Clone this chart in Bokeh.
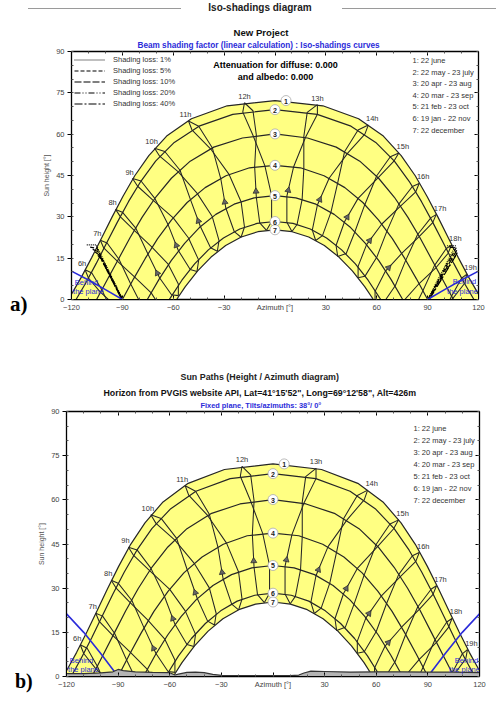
import math
from bokeh.plotting import figure
from bokeh.layouts import column, row
from bokeh.models import (Range1d, LinearAxis, SingleIntervalTicker, Label, Legend, LegendItem,
                          Title, Div)
from bokeh.core.properties import value
from bokeh.embed import file_html
from bokeh.resources import INLINE

# ---------------- data ----------------
DATE_LABELS = ["1: 22 june", "2: 22 may - 23 july", "3: 20 apr - 23 aug", "4: 20 mar - 23 sep",
               "5: 21 feb - 23 oct", "6: 19 jan - 22 nov", "7: 22 december"]

# sun paths (azimuth, height) for the 7 date curves
PATH1_AZ = [-122.0,-120.4,-114.1,-108.1,-102.1,-96.1,-89.7,-82.7,-74.4,-63.9,-49.3,-28.2,0.0,28.2,49.3,63.9,74.4,82.7,89.7,96.1,102.1,108.1,114.1,120.4,122.0]
PATH1_H = [0.0,1.5,8.2,15.2,22.5,29.9,37.4,44.9,52.2,59.3,65.6,70.3,72.2,70.3,65.6,59.3,52.2,44.9,37.4,29.9,22.5,15.2,8.2,1.5,0.0]
PATH2_AZ = [-117.3,-111.6,-105.4,-99.3,-93.1,-86.4,-79.1,-70.4,-59.4,-44.8,-24.9,0.0,24.9,44.8,59.4,70.4,79.1,86.4,93.1,99.3,105.4,111.6,117.3]
PATH2_H = [0.0,6.0,13.1,20.5,27.9,35.5,42.9,50.2,57.0,62.9,67.2,68.9,67.2,62.9,57.0,50.2,42.9,35.5,27.9,20.5,13.1,6.0,0.0]
PATH3_AZ = [-105.2,-98.6,-92.1,-85.5,-78.3,-70.4,-61.1,-50.0,-36.1,-19.2,0.0,19.2,36.1,50.0,61.1,70.4,78.3,85.5,92.1,98.6,105.2]
PATH3_H = [0.0,7.5,14.9,22.4,29.9,37.1,44.0,50.2,55.3,58.6,60.1,58.6,55.3,50.2,44.0,37.1,29.9,22.4,14.9,7.5,0.0]
PATH4_AZ = [-90.0,-83.4,-76.5,-69.2,-61.0,-51.8,-41.2,-28.9,-15.0,0.0,15.0,28.9,41.2,51.8,61.0,69.2,76.5,83.4,90.0]
PATH4_H = [0.0,7.5,14.9,22.1,28.9,35.2,40.6,44.9,47.8,48.7,47.8,44.9,40.6,35.2,28.9,22.1,14.9,7.5,0.0]
PATH5_AZ = [-75.3,-68.4,-61.2,-53.3,-44.6,-34.9,-24.1,-12.3,0.0,12.3,24.1,34.9,44.6,53.3,61.2,68.4,75.3]
PATH5_H = [0.0,7.3,14.1,20.4,26.1,30.9,34.6,36.9,37.7,36.9,34.6,30.9,26.1,20.4,14.1,7.3,0.0]
PATH6_AZ = [-62.4,-61.7,-54.9,-47.4,-39.3,-30.4,-20.8,-10.6,0.0,10.6,20.8,30.4,39.3,47.4,54.9,61.7,62.4]
PATH6_H = [0.0,0.6,7.0,12.9,18.0,22.3,25.6,27.6,28.3,27.6,25.6,22.3,18.0,12.9,7.0,0.6,0.0]
PATH7_AZ = [-58.0,-52.9,-45.6,-37.7,-29.1,-19.9,-10.1,0.0,10.1,19.9,29.1,37.7,45.6,52.9,58.0]
PATH7_H = [0.0,4.7,10.4,15.4,19.6,22.7,24.6,25.3,24.6,22.7,19.6,15.4,10.4,4.7,0.0]

# hour lines: sun position at each legal hour on
# 22 jun, 23 jul, 23 aug, 23 sep, 23 oct, 22 nov, 22 dec, 19 jan, 21 feb, 20 mar, 20 apr, 22 may
HOURS = [6, 7, 8, 9, 10, 11, 12, 13, 14, 15, 16, 17, 18, 19]
AZ_06 = [-112,-110,-103,-93,-83,-76,-75,-80,-88,-95,-102,-108]
H_06 = [10.8,7.8,2.7,-2.9,-8.6,-15.0,-19.1,-19.5,-14.1,-5.8,3.4,9.6]
AZ_07 = [-103,-101,-93,-83,-73,-66,-66,-70,-78,-85,-92,-99]
H_07 = [21.5,18.7,13.9,8.3,2.4,-4.3,-8.5,-8.6,-2.9,5.5,14.6,20.5]
AZ_08 = [-94,-91,-83,-73,-63,-57,-57,-61,-68,-75,-82,-90]
H_08 = [32.7,29.9,25.1,19.3,12.8,5.6,1.4,1.7,7.8,16.6,25.8,31.7]
AZ_09 = [-84,-81,-72,-60,-51,-45,-46,-50,-57,-63,-71,-79]
H_09 = [43.9,41.1,36.1,29.6,22.3,14.3,10.2,10.9,17.8,27.1,36.8,43.0]
AZ_10 = [-71,-68,-57,-46,-37,-33,-34,-38,-44,-50,-56,-65]
H_10 = [54.9,52.0,46.3,38.6,30.1,21.4,17.5,18.8,26.5,36.5,46.9,53.7]
AZ_11 = [-51,-49,-38,-27,-20,-18,-20,-24,-29,-32,-37,-45]
H_11 = [64.8,61.6,54.7,45.3,35.5,26.3,22.6,24.6,33.2,43.9,55.1,62.9]
AZ_12 = [-18,-19,-13,-6,-2,-2,-5,-9,-11,-12,-11,-13]
H_12 = [71.4,68.0,59.6,48.6,37.7,28.3,25.1,27.8,37.0,48.2,59.7,68.5]
AZ_13 = [25,19,17,17,16,13,10,7,7,11,18,25]
H_13 = [70.7,67.9,59.2,47.5,36.3,27.2,24.7,28.0,37.5,48.2,58.9,67.2]
AZ_14 = [55,49,41,37,33,28,24,22,25,32,43,53]
H_14 = [63.3,61.5,53.6,42.4,31.7,23.2,21.4,25.2,34.3,44.1,53.2,60.0]
AZ_15 = [73,68,60,53,47,42,37,36,41,49,61,70]
H_15 = [53.2,51.8,44.9,34.5,24.4,16.7,15.6,19.6,28.2,36.7,44.3,50.1]
AZ_16 = [85,81,73,66,60,53,49,49,54,63,74,83]
H_16 = [42.1,41.0,34.6,24.8,15.3,8.4,7.9,12.0,19.9,27.4,33.9,39.1]
AZ_17 = [95,92,84,77,71,64,59,59,65,75,85,93]
H_17 = [30.8,29.7,23.5,14.1,5.1,-1.2,-1.3,2.9,10.2,16.9,22.8,27.9]
AZ_18 = [104,101,94,87,80,73,69,69,76,85,95,102]
H_18 = [19.7,18.5,12.3,2.9,-5.8,-11.6,-11.4,-7.3,-0.4,5.8,11.6,16.7]
AZ_19 = [113,110,104,97,90,82,78,78,85,95,105,112]
H_19 = [9.1,7.7,1.1,-8.3,-17.1,-22.6,-22.2,-18.1,-11.6,-5.5,0.5,6.0]

# iso-shading curves (panel a)
SHADING_LABELS = ["Shading loss: 1%", "Shading loss: 5%", "Shading loss: 10%", "Shading loss: 20%", "Shading loss: 40%"]
ISO1_L_AZ = [-111.0, -105.5, -89.8];  ISO1_L_H = [19.8, 19.8, 0.0]
ISO1_R_AZ = [101.5, 106.5, 90.0];     ISO1_R_H = [19.5, 19.5, 0.0]
ISO5_L_AZ = [-109.0, -105.0, -89.9];  ISO5_L_H = [19.0, 18.6, 0.0]
ISO5_R_AZ = [103.0, 106.8, 90.2];     ISO5_R_H = [19.0, 18.7, 0.0]
ISO10_L_AZ = [-107.5, -104.5, -90.0]; ISO10_L_H = [18.2, 17.4, 0.0]
ISO10_R_AZ = [107.2, 90.4];           ISO10_R_H = [17.9, 0.0]
ISO20_L_AZ = [-106.0, -103.8, -90.2]; ISO20_L_H = [17.2, 16.2, 0.0]
ISO20_R_AZ = [107.5, 90.7];           ISO20_R_H = [17.0, 0.0]
ISO40_L_AZ = [-104.5, -102.5, -90.4]; ISO40_L_H = [16.0, 14.8, 0.0]
ISO40_R_AZ = [106.5, 91.0];           ISO40_R_H = [15.8, 0.0]

# "behind the plane" limits (plane tilt 20 deg in a, 38 deg in b)
BEHIND_L_AZ = [-120, -110, -100, -90]
BEHIND_R_AZ = [90, 100, 110, 120]
BEHIND_A_L_H = [10.3, 7.1, 3.6, 0.0]
BEHIND_A_R_H = [0.0, 3.6, 7.1, 10.3]
BEHIND_B_L_H = [21.3, 15.0, 7.7, 0.0]
BEHIND_B_R_H = [0.0, 7.7, 15.0, 21.3]

# PVGIS horizon (panel b)
HORIZON_AZ = [-120,-110,-100,-93,-90,-87,-80,-70,-60,-57,-55,-50,-45,-40,-35,-30,-20,-10,0,10,15,18,22,30,45,60,75,90,105,120]
HORIZON_H = [1.0,1.0,1.2,1.6,2.4,2.0,1.6,1.4,1.3,0.5,0.8,1.4,1.5,1.3,0.7,0.4,0.3,0.3,0.3,0.3,0.5,1.2,1.8,1.7,1.5,1.6,1.6,1.5,1.5,1.3]

# ---------------- styling ----------------
FONT = "Liberation Sans"
YELLOW = "#ffff82"
LINE = "#262626"
BLUE = "#2b2bd9"
TXT = "#333333"

PATHS = [(PATH1_AZ, PATH1_H), (PATH2_AZ, PATH2_H), (PATH3_AZ, PATH3_H), (PATH4_AZ, PATH4_H),
         (PATH5_AZ, PATH5_H), (PATH6_AZ, PATH6_H), (PATH7_AZ, PATH7_H)]
HOUR_AZ = [AZ_06, AZ_07, AZ_08, AZ_09, AZ_10, AZ_11, AZ_12, AZ_13, AZ_14, AZ_15, AZ_16, AZ_17, AZ_18, AZ_19]
HOUR_H = [H_06, H_07, H_08, H_09, H_10, H_11, H_12, H_13, H_14, H_15, H_16, H_17, H_18, H_19]
BRANCHES = ([0, 1, 2, 3, 4, 5, 6], [0, 11, 10, 9, 8, 7, 6])


def make_panel(width, height, left, right, top, bottom, ylab_standoff):
    p = figure(width=width, height=height, x_range=Range1d(-120, 120), y_range=Range1d(0, 90),
               output_backend="svg", toolbar_location=None,
               min_border_left=left, min_border_right=right,
               min_border_top=top, min_border_bottom=bottom,
               background_fill_color="white", border_fill_color="white")
    p.grid.visible = False
    p.outline_line_color = "black"
    p.outline_line_width = 1.3
    xa = p.xaxis[0]
    xa.ticker = SingleIntervalTicker(interval=30, num_minor_ticks=3)
    xa.major_label_overrides = {0: "Azimuth [°]"}
    ya = p.yaxis[0]
    ya.ticker = SingleIntervalTicker(interval=15, num_minor_ticks=3)
    ya.axis_label = "Sun height [°]"
    ya.axis_label_text_font = FONT
    ya.axis_label_text_font_size = "7px"
    ya.axis_label_text_font_style = "normal"
    ya.axis_label_text_color = "#555555"
    ya.axis_label_standoff = ylab_standoff
    for ax in (xa, ya):
        ax.major_label_text_font = FONT
        ax.major_label_text_font_size = "7.5px"
        ax.major_label_text_color = "#444444"
        ax.axis_line_color = "black"
        ax.major_tick_line_color = "black"
        ax.minor_tick_line_color = "#555555"
        ax.major_label_standoff = 3
    xa.major_tick_in, xa.major_tick_out = 4, 0
    xa.minor_tick_in, xa.minor_tick_out = 2, 0
    ya.major_tick_in, ya.major_tick_out = 0, 4
    ya.minor_tick_in, ya.minor_tick_out = 2, 0
    top_ax = LinearAxis(ticker=SingleIntervalTicker(interval=30, num_minor_ticks=3),
                        major_label_overrides={v: "" for v in range(-120, 121, 30)},
                        major_label_text_font_size="0px", major_label_standoff=0,
                        major_tick_in=4, major_tick_out=0, minor_tick_in=2, minor_tick_out=0,
                        axis_line_color="black", minor_tick_line_color="#555555")
    right_ax = LinearAxis(ticker=SingleIntervalTicker(interval=15, num_minor_ticks=3),
                          major_label_overrides={v: "" for v in range(0, 91, 15)},
                          major_label_text_font_size="0px", major_label_standoff=0,
                          major_tick_in=4, major_tick_out=0, minor_tick_in=2, minor_tick_out=0,
                          axis_line_color="black", minor_tick_line_color="#555555")
    p.add_layout(top_ax, "above")
    p.add_layout(right_ax, "right")
    return p


def add_title(p, text, offset, size, color, standoff=0):
    p.add_layout(Title(text=text, align="left", offset=offset, standoff=standoff,
                       vertical_align="middle", text_font=FONT, text_font_size=size,
                       text_font_style="bold", text_color=color), "above")


def draw_sun_paths(p, sx, sy):
    # yellow band between 22 june and 22 december
    p.patch(PATH1_AZ + PATH7_AZ[::-1], PATH1_H + PATH7_H[::-1], fill_color=YELLOW, line_color=None)
    # hour lines (two branches each)
    for az, h in zip(HOUR_AZ, HOUR_H):
        for idx in BRANCHES:
            xs, ys = [], []
            for i in idx:
                xs.append(az[i]); ys.append(h[i])
                if h[i] <= 0:
                    break
            p.line(xs, ys, line_color=LINE, line_width=1.05)
    # date curves
    for az, h in PATHS:
        p.line(az, h, line_color=LINE, line_width=1.2)
    # direction arrows on the rising branch (at 21 feb)
    axs, ays, angs = [], [], []
    for az, h in zip(HOUR_AZ, HOUR_H):
        f, m = 8, 9
        if h[f] > 0:
            axs.append(az[f] + 0.2 * (az[m] - az[f]))
            ays.append(h[f] + 0.2 * (h[m] - h[f]))
            angs.append(math.atan2((h[m] - h[f]) * sy, (az[m] - az[f]) * sx) - math.pi / 2)
    p.scatter(axs, ays, marker="triangle", size=6, angle=angs, fill_color="#666666",
              line_color="#222222", line_width=0.7)
    # hour labels at the 22 june point
    for hr, az, h in zip(HOURS, HOUR_AZ, HOUR_H):
        xo = -3 if hr < 12 else (4 if hr > 13 else 0)
        p.text([az[0]], [h[0]], text=["%dh" % hr], text_font=value(FONT), text_font_size="7.5px",
               text_color=TXT, text_align="center", text_baseline="bottom", x_offset=xo, y_offset=-2)


def draw_date_marks(p):
    xs, ys, ts = [], [], []
    for k, (az, h) in enumerate(PATHS):
        i = h.index(max(h))
        xs.append(az[i] + (6.5 if k == 0 else 0.0))
        ys.append(h[i])
        ts.append(str(k + 1))
    p.scatter(xs, ys, marker="circle", size=10, fill_color="white", line_color="#aaaaaa", line_width=0.8)
    p.text(xs, ys, text=ts, text_font=value(FONT), text_font_size="7px", text_font_style="bold",
           text_color="#222222", text_align="center", text_baseline="middle", y_offset=0.5)


def label(p, x, y, text, size, color="black", bold=False, align="center", baseline="middle"):
    p.add_layout(Label(x=x, y=y, text=text, text_font=FONT, text_font_size=size,
                       text_font_style="bold" if bold else "normal", text_color=color,
                       text_align=align, text_baseline=baseline))


# ---------------- header ----------------
header = Div(width=496, height=20, margin=0, text=(
    "<div style='position:relative;width:496px;height:20px;'>"
    "<div style='position:absolute;left:28px;top:8px;width:153px;height:0;border-top:1px solid #9a9a9a'></div>"
    "<div style='position:absolute;left:342px;top:8px;width:154px;height:0;border-top:1px solid #9a9a9a'></div>"
    "<div style=\"position:absolute;left:160px;top:2px;width:200px;text-align:center;"
    "font-family:'Liberation Sans';font-weight:bold;font-size:10px;line-height:12px;color:#222\">"
    "Iso-shadings diagram</div></div>"))

# ---------------- panel a ----------------
A_TOP, A_H, SIDE_A, BORDER = 20, 333, 40, 31


def pa_xy(px, py):
    return -120 + (px - 71) * 240 / 407, (299 - py) * 90 / 248


pa = make_panel(496 - SIDE_A, A_H, BORDER, 18, 51 - A_TOP, A_TOP + A_H - 299, 3)
add_title(pa, "Beam shading factor (linear calculation) : Iso-shadings curves", 137 - 71, "8.2px", BLUE, standoff=2)
add_title(pa, "New Project", 233 - 71, "9.6px", "#111111")
draw_sun_paths(pa, 407 / 240, 248 / 90)

dashes = ["1 1", "4 2", "7 2", "6 2 1 2 1 2", "8 2 2 2"]
iso = [((ISO1_L_AZ, ISO1_R_AZ), (ISO1_L_H, ISO1_R_H)),
       ((ISO5_L_AZ, ISO5_R_AZ), (ISO5_L_H, ISO5_R_H)),
       ((ISO10_L_AZ, ISO10_R_AZ), (ISO10_L_H, ISO10_R_H)),
       ((ISO20_L_AZ, ISO20_R_AZ), (ISO20_L_H, ISO20_R_H)),
       ((ISO40_L_AZ, ISO40_R_AZ), (ISO40_L_H, ISO40_R_H))]
items = []
for (xs, ys), d, lab in zip(iso, dashes, SHADING_LABELS):
    r = pa.multi_line(list(xs), list(ys), line_color="black", line_width=1.2, line_dash=d)
    items.append(LegendItem(label=lab, renderers=[r]))
leg = Legend(items=items, location="top_left", margin=0, padding=3, spacing=0,
             glyph_width=31, glyph_height=11, label_height=11, label_standoff=8,
             label_text_font=FONT, label_text_font_size="7.5px", label_text_color=TXT,
             background_fill_alpha=0, border_line_alpha=0)
pa.add_layout(leg)

pa.line(BEHIND_L_AZ, BEHIND_A_L_H, line_color=BLUE, line_width=1.6)
pa.line(BEHIND_R_AZ, BEHIND_A_R_H, line_color=BLUE, line_width=1.6)
draw_date_marks(pa)

for k, t in enumerate(DATE_LABELS):
    x, y = pa_xy(412, 60 + 11.6 * k)
    label(pa, x, y, t, "7.5px", TXT, align="left")
label(pa, *pa_xy(275, 64.5), "Attenuation for diffuse: 0.000", "9px", "black", bold=True)
label(pa, *pa_xy(275, 76), "and albedo: 0.000", "9px", "black", bold=True)
label(pa, *pa_xy(86, 282), "Behind", "7.5px", BLUE)
label(pa, *pa_xy(88, 291), "the plane", "7.5px", BLUE)
label(pa, *pa_xy(464, 281), "Behind", "7.5px", BLUE)
label(pa, *pa_xy(462, 291), "the plane", "7.5px", BLUE)

side_a = Div(width=SIDE_A, height=A_H, margin=0, text=(
    "<div style='position:relative;width:40px;height:333px;'>"
    "<div style=\"position:absolute;left:10px;top:274px;font-family:'Liberation Serif';"
    "font-weight:bold;font-size:21px;line-height:21px;color:#000\">a)</div></div>"))

# ---------------- panel b ----------------
B_TOP, B_H, SIDE_B = 353, 340, 35


def pb_xy(px, py):
    return -120 + (px - 66) * 240 / 413, (676 - py) * 90 / 265


pb = make_panel(496 - SIDE_B, B_H, BORDER, 17, 411 - B_TOP, B_TOP + B_H - 676, 3)
add_title(pb, "Fixed plane, Tilts/azimuths: 38°/ 0°", 200 - 66, "7.4px", BLUE, standoff=2)
add_title(pb, "Horizon from PVGIS website API, Lat=41°15'52\", Long=69°12'58\", Alt=426m", 103 - 66, "8.8px", "#111111")
add_title(pb, "Sun Paths (Height / Azimuth diagram)", 180 - 66, "8.9px", "#222222", standoff=7)
draw_sun_paths(pb, 413 / 240, 265 / 90)
pb.line(BEHIND_L_AZ, BEHIND_B_L_H, line_color=BLUE, line_width=1.6)
pb.line(BEHIND_R_AZ, BEHIND_B_R_H, line_color=BLUE, line_width=1.6)
pb.patch(HORIZON_AZ + [120, -120], HORIZON_H + [0, 0], fill_color="#b4b4b4", line_color=None)
pb.line(HORIZON_AZ, HORIZON_H, line_color="#333333", line_width=1.2)
draw_date_marks(pb)

for k, t in enumerate(DATE_LABELS):
    x, y = pb_xy(413, 428 + 12 * k)
    label(pb, x, y, t, "7.5px", TXT, align="left")
label(pb, *pb_xy(81, 660), "Behind", "7.5px", BLUE)
label(pb, *pb_xy(83, 669), "the plane", "7.5px", BLUE)
label(pb, *pb_xy(466, 660), "Behind", "7.5px", BLUE)
label(pb, *pb_xy(464, 669), "the plane", "7.5px", BLUE)

side_b = Div(width=SIDE_B, height=B_H, margin=0, text=(
    "<div style='position:relative;width:35px;height:340px;'>"
    "<div style=\"position:absolute;left:15px;top:318px;font-family:'Liberation Serif';"
    "font-weight:bold;font-size:20px;line-height:20px;color:#000\">b)</div></div>"))

page = column(header, row(side_a, pa), row(side_b, pb))
open("out.html", "w").write(file_html(page, INLINE))
